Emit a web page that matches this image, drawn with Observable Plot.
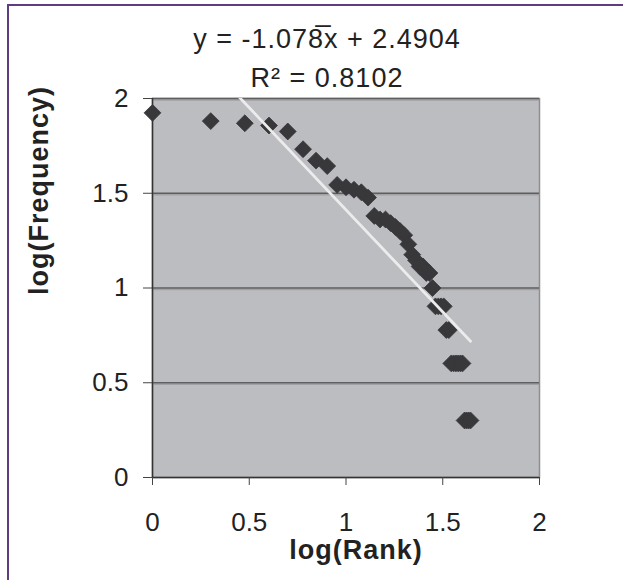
<!DOCTYPE html>
<html>
<head>
<meta charset="utf-8">
<script src="https://cdn.jsdelivr.net/npm/d3@7"></script>
<script src="https://cdn.jsdelivr.net/npm/@observablehq/plot@0.6"></script>
<style>
  html, body { margin: 0; padding: 0; background: #fff; }
  #wrap { position: relative; width: 623px; height: 580px; overflow: hidden; background: #fff; }
  .bt { position: absolute; left: 7px; top: 4px; width: 616px; height: 2px; background: #5e3c7d; }
  .bl { position: absolute; left: 7px; top: 4px; width: 2px; height: 576px; background: #5e3c7d; }
  #chart { position: absolute; left: 0; top: 0; }
</style>
</head>
<body>
<div id="wrap">
  <div id="chart"></div>
  <div class="bt"></div>
  <div class="bl"></div>
</div>
<script>
// Rank (1..44) and word frequency, plotted as log10 values
const ranks = [1,2,3,4,5,6,7,8,9,10,11,12,13,14,15,16,17,18,19,20,21,22,23,24,25,26,27,28,29,30,31,32,33,34,35,36,37,38,39,40,41,42,43,44];
const frequencies = [84,76,74,72,67,54,47,44,35,34,33,32,30,24,23,23,22,21,20,19,17,15,14,13,13,12,12,10,8,8,8,8,6,6,4,4,4,4,4,4,2,2,2,2];
const slope = -1.078;
const intercept = 2.4904;
const rSquared = 0.8102;
const xTicks = [0, 0.5, 1, 1.5, 2];
const yTicks = [0, 0.5, 1, 1.5, 2];
const titleLines = ["y = -1.078\u0305x + 2.4904", "R\u00B2 = 0.8102"];
const xLabel = "log(Rank)";
const yLabel = "log(Frequency)";

const points = ranks.map((r, i) => ({x: Math.log10(r), y: Math.log10(frequencies[i])}));
const xMax = d3.max(points, d => d.x);
const trend = [0, xMax].map(x => ({x, y: slope * x + intercept}));

const chart = Plot.plot({
  width: 623,
  height: 580,
  marginLeft: 152,
  marginRight: 84,
  marginTop: 98,
  marginBottom: 103,
  style: {fontFamily: "'Liberation Sans', Arial, sans-serif", fontSize: "26px", color: "#222", background: "transparent"},
  x: {domain: [0, 2], axis: null},
  y: {domain: [0, 2], axis: null},
  marks: [
    Plot.frame({fill: "#bcbdc1", stroke: "#8e8e8e", strokeWidth: 1.5}),
    Plot.ruleY(yTicks.filter(d => d > 0), {stroke: "#a2a2a4", strokeWidth: 1.5, dy: 1.5}),
    Plot.ruleY(yTicks.filter(d => d > 0), {stroke: "#5e5e60", strokeWidth: 1.5}),
    Plot.ruleX([0], {stroke: "#333", strokeWidth: 1.5}),
    Plot.ruleY([0], {stroke: "#333", strokeWidth: 1.5}),
    Plot.axisX(xTicks, {tickSize: 8, tickPadding: 27, tickFormat: d => String(d), label: null, stroke: "#444"}),
    Plot.axisY(yTicks, {tickSize: 9, tickPadding: 15, tickFormat: d => String(d), label: null, stroke: "#444"}),
    Plot.dot(points, {x: "x", y: "y", symbol: "diamond2", r: 7.6, fill: "#38383b", stroke: "#38383b", strokeWidth: 0.8}),
    Plot.line(trend, {x: "x", y: "y", stroke: "#ececec", strokeWidth: 2.8, clip: true}),
    Plot.text([titleLines[0]], {text: d => d, frameAnchor: "top", dx: -19, dy: -70, fontSize: 27, fill: "#222"}),
    Plot.text([titleLines[1]], {text: d => d, frameAnchor: "top", dx: -19, dy: -31, fontSize: 27, fill: "#222"}),
    Plot.text([xLabel], {text: d => d, frameAnchor: "bottom", dx: 10, dy: 81, fontSize: 27, fontWeight: "bold", fill: "#222"}),
    Plot.text([yLabel], {text: d => d, frameAnchor: "left", dx: -113, dy: 7, rotate: -90, fontSize: 27, fontWeight: "bold", fill: "#222"})
  ]
});
document.getElementById("chart").appendChild(chart);
document.querySelectorAll("#chart text").forEach(t => {
  const s = t.textContent;
  if (s.startsWith("y =") || s.startsWith("R") || s.startsWith("log")) t.setAttribute("letter-spacing", "1");
});
</script>
</body>
</html>
